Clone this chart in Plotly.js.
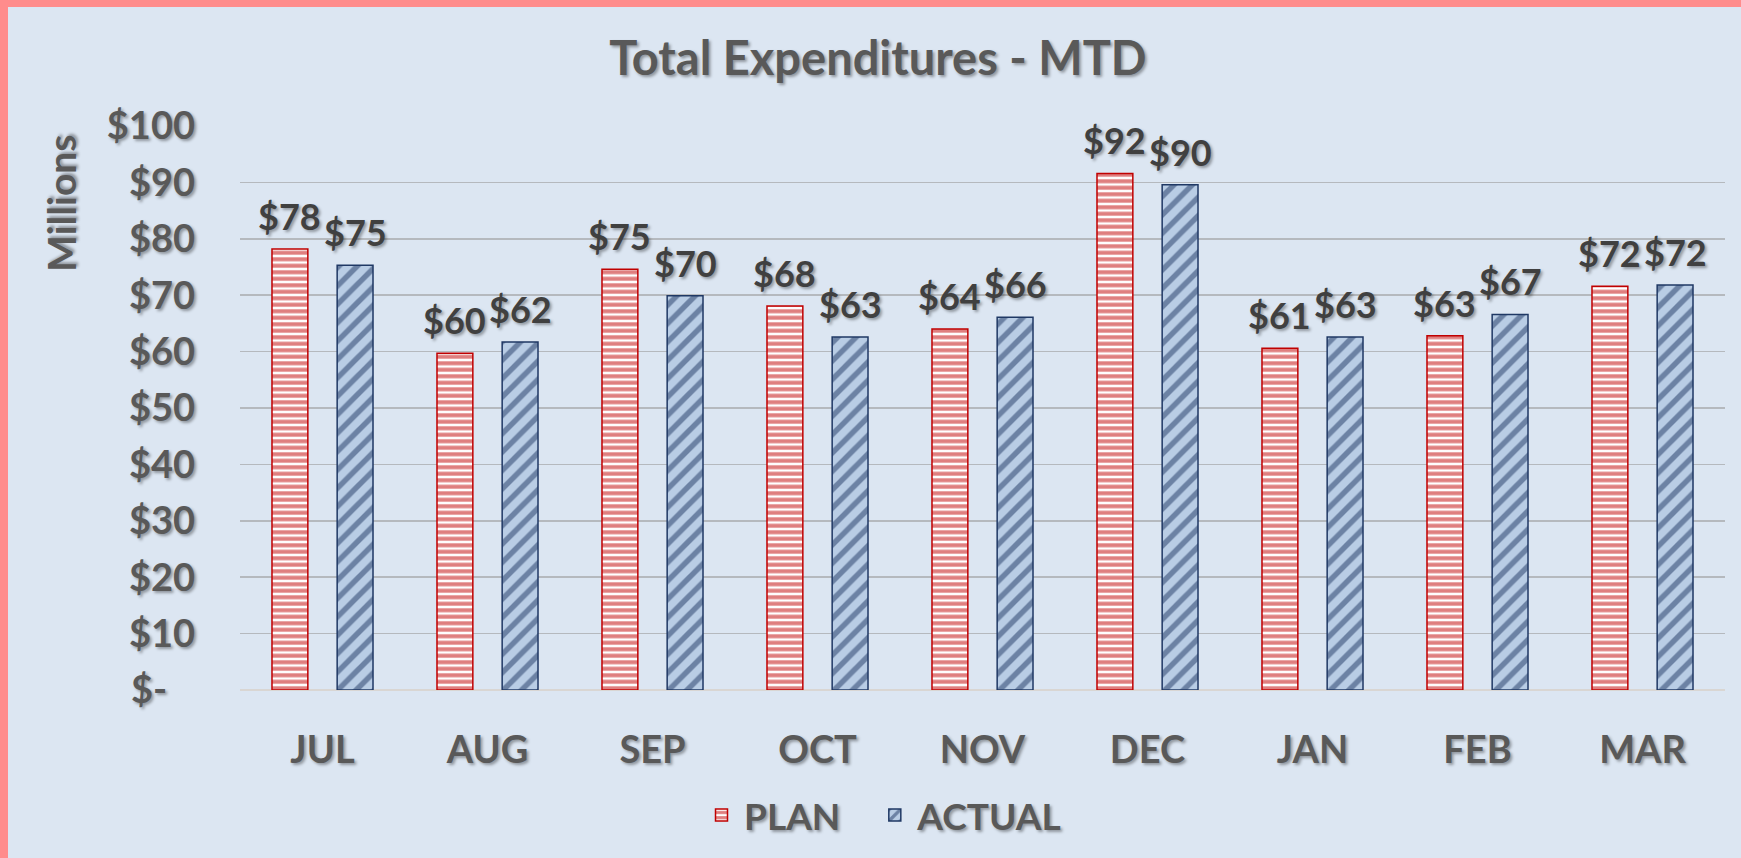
<!DOCTYPE html>
<html>
<head>
<meta charset="utf-8">
<script src="https://cdn.plot.ly/plotly-3.0.1.min.js"></script>
<style>
  html, body { margin: 0; padding: 0; width: 1741px; height: 858px; overflow: hidden; background: #FF8C8C; }
  #chart { position: absolute; left: 8px; top: 7px; width: 1733px; height: 851px; }
</style>
</head>
<body>
<div id="chart"></div>
<script>
// ---- data ----
const months = ['JUL', 'AUG', 'SEP', 'OCT', 'NOV', 'DEC', 'JAN', 'FEB', 'MAR'];
const plan   = [78.2, 59.7, 74.6, 68.1, 64.0, 91.6, 60.6, 62.8, 71.6];
const actual = [75.3, 61.7, 69.9, 62.6, 66.1, 89.6, 62.6, 66.6, 71.8];
const yTickVals = [0, 10, 20, 30, 40, 50, 60, 70, 80, 90, 100];
const yTickText = ['$-\u00A0\u00A0\u00A0', '$10', '$20', '$30', '$40', '$50', '$60', '$70', '$80', '$90', '$100'];
const seriesNames = ['PLAN', 'ACTUAL'];
const chartTitle = 'Total Expenditures - MTD';
const yTitle = 'Millions';

// ---- styling ----
const W = 1733, H = 851;
const M = { l: 232, r: 16, t: 119, b: 166 };
const BARGAP = 0.21, BARGROUPGAP = 0.45;
const FONT = 'Lato, "Open Sans", sans-serif';
const SHADOW = '2px 2px 3px rgba(0,0,0,0.35)';
const BG = '#DCE6F2';
const LEGEND_PAD = '\u00A0\u00A0\u00A0';

const traces = [
  {
    type: 'bar', name: seriesNames[0] + LEGEND_PAD, x: months, y: plan,
    marker: {
      color: '#FFFFFF',
      line: { color: '#C00000', width: 1.5 },
      pattern: { shape: '-', fgcolor: '#C00000', bgcolor: '#FFFFFF', size: 6.5, solidity: 0.62, fillmode: 'overlay' }
    },
    hoverinfo: 'skip'
  },
  {
    type: 'bar', name: seriesNames[1], x: months, y: actual,
    marker: {
      color: '#B9CDE5',
      line: { color: '#1F3864', width: 1.5 },
      pattern: { shape: '/', fgcolor: '#1F3864', bgcolor: '#B9CDE5', size: 13, solidity: 0.42, fillmode: 'overlay' }
    },
    hoverinfo: 'skip'
  }
];

// value labels placed through the axes' own scales
const plotW = W - M.l - M.r;
const catW = plotW / months.length;
const off = catW * (1 - BARGAP) / 4;
const annotations = [];
[plan, actual].forEach((vals, k) => {
  vals.forEach((v, i) => {
    annotations.push({
      x: months[i], y: v, xref: 'x', yref: 'y',
      text: '$' + Math.round(v), showarrow: false,
      xanchor: 'center', yanchor: 'bottom',
      xshift: k === 0 ? -off : off, yshift: 9,
      font: { family: FONT, size: 36, color: '#404040', weight: 700, shadow: SHADOW }
    });
  });
});
annotations.push({
  text: yTitle, xref: 'paper', yref: 'paper', x: -0.1205, y: 0.862,
  xanchor: 'center', yanchor: 'middle', textangle: -90, showarrow: false,
  font: { family: FONT, size: 39, color: '#595959', weight: 700, shadow: SHADOW }
});

const layout = {
  width: W, height: H,
  margin: { l: M.l, r: M.r, t: M.t, b: M.b, pad: 0 },
  paper_bgcolor: BG, plot_bgcolor: BG,
  font: { family: FONT, color: '#595959', weight: 700 },
  title: {
    text: chartTitle, xref: 'container', x: 0.502, xanchor: 'center',
    yref: 'container', y: 0.94, yanchor: 'middle',
    font: { family: FONT, size: 47, color: '#595959', weight: 700, shadow: SHADOW }
  },
  barmode: 'group', bargap: BARGAP, bargroupgap: BARGROUPGAP,
  xaxis: {
    type: 'category', showgrid: false, showline: false, zeroline: false, ticks: '',
    tickfont: { family: FONT, size: 38, color: '#595959', weight: 700, shadow: SHADOW },
    ticklabelstandoff: 34
  },
  yaxis: {
    range: [0, 100], tickmode: 'array', tickvals: yTickVals, ticktext: yTickText,
    showgrid: true, gridcolor: '#B5B9BE', gridwidth: 1.5,
    zeroline: true, zerolinecolor: '#D9D6D3', zerolinewidth: 1.5,
    showline: false, ticks: '',
    tickfont: { family: FONT, size: 38, color: '#595959', weight: 700, shadow: SHADOW },
    ticklabelstandoff: 44
  },
  showlegend: true,
  legend: {
    orientation: 'h', x: 0.433, xanchor: 'center', y: -0.2226, yanchor: 'middle',
    bgcolor: 'rgba(0,0,0,0)', itemwidth: 35,
    font: { family: FONT, size: 37, color: '#595959', weight: 700, shadow: SHADOW }
  },
  annotations: annotations,
  hovermode: false
};

Plotly.newPlot('chart', traces, layout, { displayModeBar: false, staticPlot: true });
</script>
</body>
</html>
